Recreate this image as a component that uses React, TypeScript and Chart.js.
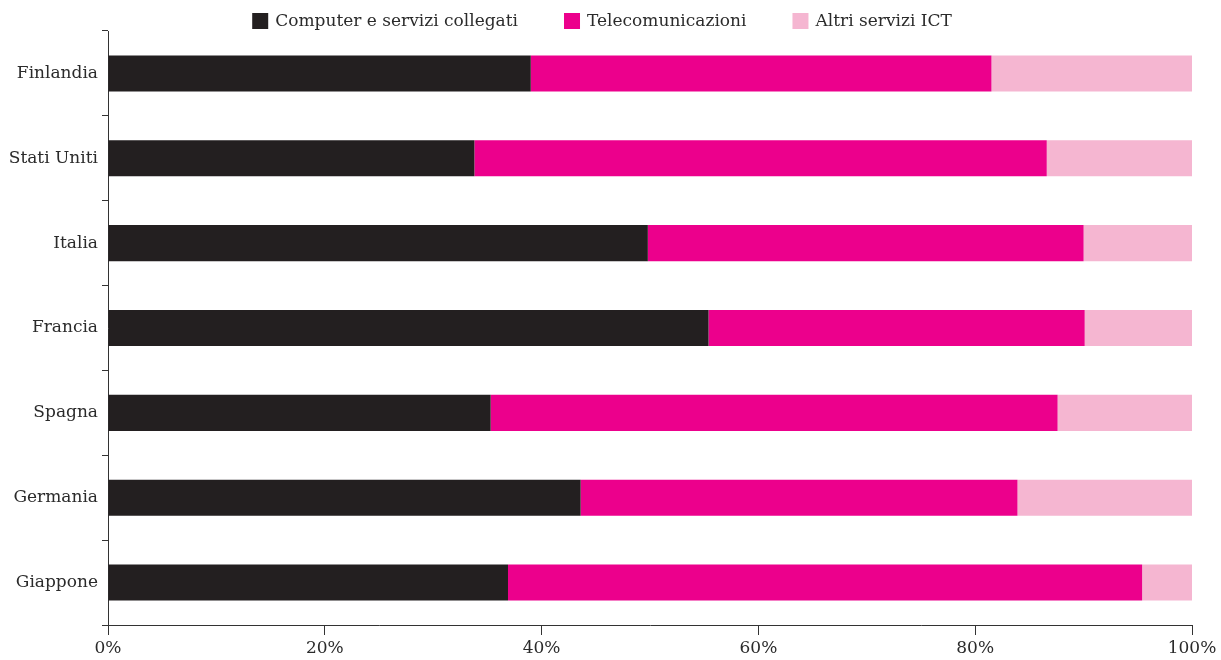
import React, { useEffect, useRef } from "react";
import { Chart, registerables } from "chart.js";

Chart.register(...registerables);

const categories = ["Finlandia", "Stati Uniti", "Italia", "Francia", "Spagna", "Germania", "Giappone"];
const computerValues = [39.0, 33.8, 49.8, 55.4, 35.3, 43.6, 36.9];
const telecomValues = [42.5, 52.8, 40.2, 34.7, 52.3, 40.3, 58.5];
const altriValues = [18.5, 13.4, 10.0, 9.9, 12.4, 16.1, 4.6];
const seriesLabels = ["Computer e servizi collegati", "Telecomunicazioni", "Altri servizi ICT"];
const seriesColors = ["#231f20", "#ec008c", "#f5b6d1"];
const xTicks = [0, 20, 40, 60, 80, 100];

const FONT = "'DejaVu Serif', serif";
const TEXT = "#2b2b2b";

const legendPlugin = {
  id: "customLegend",
  afterDraw(chart: any) {
    const ctx = chart.ctx;
    const box = 16;
    const boxGap = 7;
    const itemGap = 46;
    const cx = 602;
    const cy = 21;
    ctx.save();
    ctx.font = `17px ${FONT}`;
    const items = chart.data.datasets.map((d: any) => ({
      text: d.label,
      color: d.backgroundColor,
      w: ctx.measureText(d.label).width,
    }));
    const total =
      items.reduce((s: number, it: any) => s + box + boxGap + it.w, 0) + itemGap * (items.length - 1);
    let x = cx - total / 2;
    ctx.textBaseline = "middle";
    ctx.textAlign = "left";
    for (const it of items) {
      ctx.fillStyle = it.color;
      ctx.fillRect(x, cy - box / 2, box, box);
      x += box + boxGap;
      ctx.fillStyle = TEXT;
      ctx.fillText(it.text, x, cy + 1);
      x += it.w + itemGap;
    }
    ctx.restore();
  },
};

export default function App() {
  const ref = useRef<HTMLCanvasElement | null>(null);
  useEffect(() => {
    if (!ref.current) return;
    const values = [computerValues, telecomValues, altriValues];
    const chart = new Chart(ref.current, {
      type: "bar",
      data: {
        labels: categories,
        datasets: seriesLabels.map((label, i) => ({
          label,
          data: values[i],
          backgroundColor: seriesColors[i],
          borderWidth: 0,
          categoryPercentage: 1,
          barPercentage: 0.425,
        })),
      },
      options: {
        indexAxis: "y",
        animation: false,
        responsive: true,
        maintainAspectRatio: false,
        layout: { padding: { top: 31, right: 29, left: 0, bottom: 0 } },
        plugins: {
          legend: { display: false },
          tooltip: { enabled: false },
        },
        scales: {
          x: {
            stacked: true,
            min: 0,
            max: 100,
            afterFit: (s: any) => {
              s.height = 35;
            },
            afterBuildTicks: (s: any) => {
              s.ticks = xTicks.map((v) => ({ value: v }));
            },
            grid: {
              drawOnChartArea: false,
              drawTicks: true,
              tickLength: 10,
              color: "#333",
            },
            border: { display: true, color: "#333", width: 1 },
            ticks: {
              padding: 3,
              color: TEXT,
              font: { family: FONT, size: 17 },
              callback: (v: any) => `${v}%`,
              maxRotation: 0,
            },
          },
          y: {
            stacked: true,
            afterFit: (s: any) => {
              s.width = 108;
            },
            grid: {
              offset: true,
              drawOnChartArea: false,
              drawTicks: true,
              tickLength: 6,
              color: "#333",
            },
            border: { display: true, color: "#333", width: 1 },
            ticks: {
              padding: 4,
              color: TEXT,
              font: { family: FONT, size: 17 },
            },
          },
        },
      },
      plugins: [legendPlugin],
    } as any);
    return () => chart.destroy();
  }, []);
  return (
    <div style={{ position: "absolute", left: 0, top: 0, width: 1221, height: 660, background: "#fff" }}>
      <canvas ref={ref} />
    </div>
  );
}
